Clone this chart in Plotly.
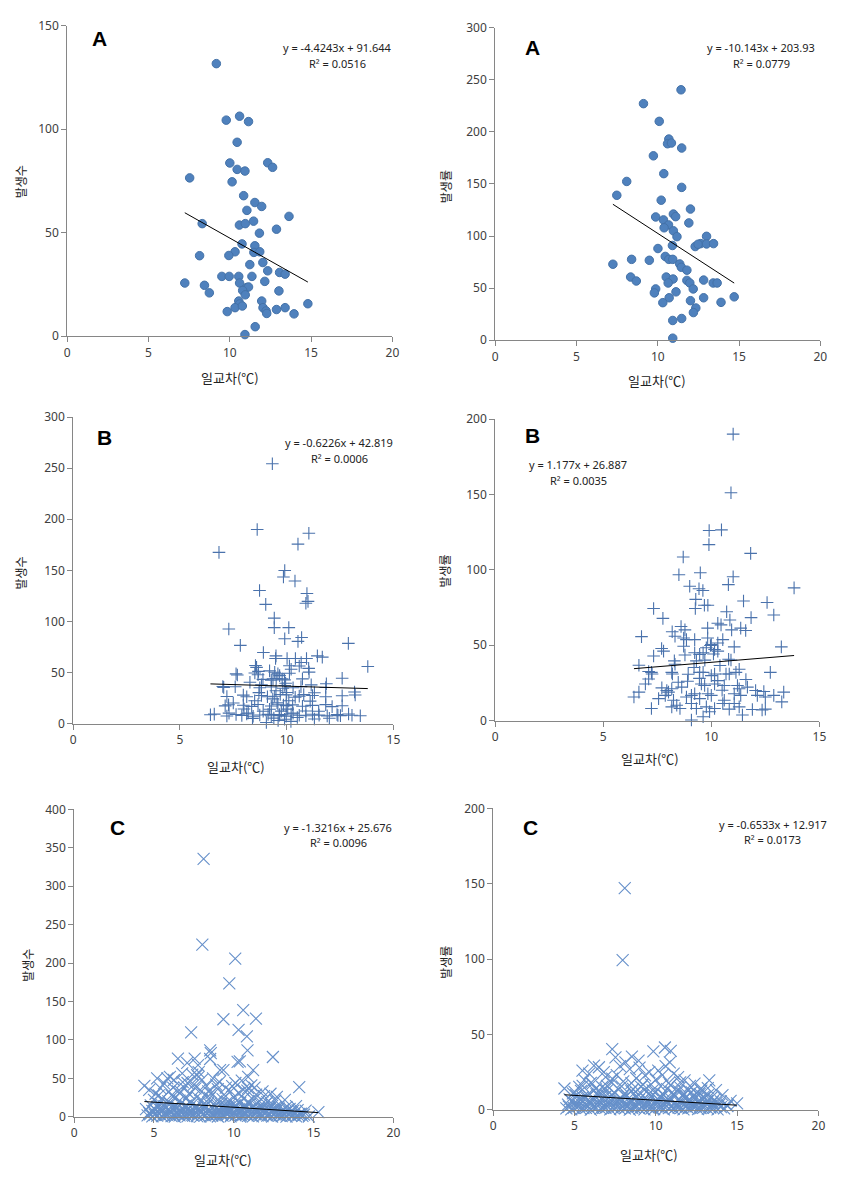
import plotly.graph_objects as go

W, H = 858, 1181

# ---------------- data ----------------
# Panel A (left): 발생수 vs 일교차
a_count = [(9.17,131.7),(9.78,104.4),(10.6,106.3),(11.15,103.7),(10.45,93.7),(10.0,83.7),(12.33,83.8),(12.63,81.6),
 (10.45,80.6),(10.93,79.8),(7.53,76.5),(10.14,74.6),(10.85,67.9),(11.54,64.6),(11.96,62.7),(11.05,60.8),(13.64,57.9),
 (8.3,54.4),(10.59,53.7),(10.95,54.4),(11.46,55.6),(12.87,51.7),(11.82,49.8),(10.75,44.6),(11.54,43.7),(10.32,40.8),
 (9.94,39.0),(8.14,38.9),(11.48,40.5),(11.84,40.8),(12.03,35.6),(11.23,34.6),(12.33,31.6),(13.06,30.8),(13.4,30.0),
 (9.51,28.9),(9.96,28.9),(10.55,28.9),(11.36,28.9),(7.23,25.7),(8.44,24.6),(10.6,25.7),(12.15,26.5),(11.03,23.5),
 (11.15,23.8),(10.79,22.1),(13.02,21.9),(8.74,20.95),(10.95,20.0),(10.55,17.0),(11.96,17.0),(10.6,15.6),(14.8,15.7),
 (10.32,13.8),(10.77,14.6),(12.04,13.8),(12.23,12.2),(12.87,12.9),(13.4,13.8),(9.84,11.9),(12.27,11.0),(13.95,10.8),
 (11.56,4.6),(10.93,0.8)]

# Panel A (right): 발생률 vs 일교차
a_rate = [(11.43,240.4),(9.12,227.1),(10.09,210.1),(10.68,193.1),(10.6,188.6),(10.84,189.3),(11.47,184.5),(9.73,177.0),
 (10.37,159.9),(8.09,152.4),(11.47,146.7),(7.48,139.1),(10.21,134.4),(12.01,125.9),(10.96,121.1),(11.1,118.6),
 (9.87,118.3),(10.35,115.5),(11.91,112.6),(10.66,110.7),(10.39,107.9),(10.96,105.0),(11.18,99.4),(13.0,99.7),
 (12.64,92.7),(12.3,89.9),(12.48,92.1),(13.0,92.4),(13.43,92.7),(10.9,90.9),(10.01,88.0),(7.24,72.9),(8.39,77.6),
 (9.48,76.7),(10.46,80.4),(10.68,77.6),(10.92,77.6),(11.35,73.2),(11.45,70.0),(11.79,67.2),(8.33,60.6),(8.68,56.8),
 (10.52,60.6),(10.94,58.7),(10.64,54.9),(12.82,57.7),(11.79,57.4),(11.97,54.9),(12.18,49.2),(13.41,54.9),(13.65,54.9),
 (9.87,49.2),(9.79,45.4),(11.12,46.4),(10.7,40.7),(10.31,36.0),(12.01,37.9),(12.82,40.7),(13.89,36.3),(14.7,41.6),
 (12.34,30.9),(12.19,26.5),(10.92,18.9),(11.47,20.8),(10.92,1.9)]

# Panel B (left): 발생수
b_count = [(9.33,254.3),(8.62,190.0),(11.04,186.2),(10.53,175.6),(6.83,167.5),(9.91,149.8),(9.85,143.4),(10.39,139.5),
 (10.95,127.3),(11.0,119.6),(10.9,117.7),(8.73,130.2),(9.02,116.7),(9.42,103.2),(9.42,93.9),(10.1,93.9),(7.29,92.6),
 (9.91,83.0),(10.53,80.4),(10.7,84.2),(7.83,76.5),(12.89,78.5),(8.91,69.5),(9.5,66.2),(9.48,63.7),(10.02,63.7),
 (10.41,63.7),(10.93,63.7),(11.44,66.2),(11.67,65.0),(13.8,55.9),(8.54,56.9),(8.68,51.1),(9.59,48.6),(10.13,56.6),
 (11.03,54.0),(10.68,59.8),(7.63,48.6),(7.69,47.6),(8.28,40.5),(12.6,44.4),(8.82,37.9),(10.74,43.7),(9.79,43.7),
 (9.36,43.7),(9.91,37.3),(11.15,37.9),(11.86,38.9),(7.01,36.3),(13.18,30.9),
 (8.59,55.0),(10.21,53.2),(10.59,56.4),(11.05,50.3),(8.51,49.5),(8.66,47.8),(9.2,51.6),(9.44,50.2),(9.67,46.9),
 (10.13,49.3),(8.89,43.2),(9.28,42.5),(9.51,44.1),(9.9,42.8),
 (7.05,35.4),(7.59,36.1),(8.74,35.0),(9.28,35.8),(9.82,34.6),(10.67,36.2),(11.83,35.3),
 (7.2,26.5),(7.97,27.8),(8.13,26.2),(8.82,27.4),(9.44,26.8),(9.98,28.1),(10.59,26.9),(11.21,27.5),(11.83,26.3),
 (12.6,27.2),(13.21,28.0),
 (7.12,17.3),(7.28,18.4),(7.97,17.9),(8.36,16.8),(8.66,18.7),(9.28,17.2),(9.59,18.9),(9.98,17.6),(10.28,18.3),
 (10.74,16.9),(11.21,17.8),(11.83,18.5),(12.13,16.6),(12.6,17.4),
 (6.43,8.6),(6.61,9.2),(7.2,7.4),(7.63,8.8),(7.9,7.9),(8.13,9.5),(8.43,7.2),(8.74,8.4),(9.13,9.0),(9.28,7.6),
 (9.67,8.7),(9.98,7.3),(10.21,9.3),(10.59,8.1),(10.9,7.7),(11.21,9.1),(11.52,8.3),(11.9,7.5),(12.36,8.9),(12.52,7.8),
 (12.9,9.4),(13.06,8.2),(13.45,7.6),
 (9.05,1.0),(9.6,3.0),(9.9,4.2),(10.2,2.1),(9.4,5.3),(10.5,6.0),(11.3,4.4),(8.4,5.1),(9.75,12.2),(10.05,14.1),
 (9.55,20.3),(10.1,22.4),(9.35,24.2),(10.4,25.8),(9.7,28.5),(10.9,12.3),(11.1,22.0),(8.9,12.1),(8.2,10.4),(9.2,14.0),
 (9.85,18.2),(10.3,10.2),(9.65,8.0),(10.0,30.4),(9.5,32.1),(8.5,22.3),(8.0,14.2),(11.5,12.0),(12.0,5.2),(12.4,8.0),
 (7.5,20.1),(10.8,28.3),(11.3,30.2),(9.95,39.4),(10.3,35.1),(9.1,26.2),(8.7,30.3),(7.3,10.2)]

# Panel B (right): 발생률
b_rate = [(11.01,190.0),(10.91,151.1),(9.9,126.1),(10.47,126.5),(9.89,116.7),(11.82,110.9),(8.7,108.5),(8.5,96.7),
 (9.49,98.0),(11.01,95.4),(10.79,90.2),(9.0,89.1),(13.83,88.0),(9.43,87.4),(9.61,86.3),(7.33,74.3),(9.28,80.4),
 (9.26,74.3),(9.68,76.5),(9.84,76.5),(12.58,78.3),(11.49,79.3),(10.71,72.2),(7.76,67.8),(11.84,68.3),(12.89,70.0),
 (10.86,66.7),(10.3,64.6),(10.45,63.5),(8.6,62.4),(8.78,60.2),(8.19,58.9),(8.32,55.9),(9.83,61.3),(10.94,60.2),
 (11.36,61.3),(11.59,59.8),(6.77,55.7),(8.72,54.8),(8.85,53.7),(9.23,53.7),(9.83,54.8),(10.53,53.7),(10.3,51.5),
 (9.96,49.8),(10.0,50.4),(9.77,48.3),(11.06,48.9),(13.24,48.9),(8.72,49.3),(7.7,47.8),(7.79,46.1),(9.23,45.0),
 (9.46,43.9),(9.62,45.0),(8.78,43.5),(7.33,42.8),(10.15,47.2),(10.3,46.1),(10.8,40.7),(10.91,40.2),(6.65,36.7),
 (8.29,39.6),(8.32,37.4),(9.31,39.6),(12.73,32.0),(7.1,32.6),(7.23,32.0),(7.26,30.9),(8.17,32.0),(8.2,30.9),
 (8.93,30.7),(9.46,32.0),(9.62,32.0),(10.0,29.8),(10.15,30.9),(10.68,30.9),(10.83,30.9),(11.14,32.0),(11.29,34.1),
 (6.95,24.3),(7.1,27.6),(7.71,21.7),(7.94,20.0),(8.02,18.9),(8.17,21.1),(8.47,25.4),(8.63,22.2),(9.54,24.3),
 (9.69,23.3),(10.15,24.3),(10.3,26.5),(10.6,23.3),(11.21,23.3),(11.29,21.1),(11.67,22.2),(12.05,20.0),(12.43,19.3),
 (12.89,16.7),(13.35,18.9),(6.42,15.7),(6.65,18.9),(7.56,14.6),(7.87,16.7),(8.25,13.5),(8.85,15.7),(9.08,16.7),
 (9.23,17.8),(9.46,14.6),(9.84,17.8),(10.0,16.7),(10.6,13.5),(10.53,11.3),(11.06,17.8),(11.36,16.7),(12.13,16.7),
 (12.5,15.7),(13.26,12.4),(7.23,8.0),(8.17,9.1),(8.4,10.2),(8.55,8.0),(9.08,11.3),(9.31,8.0),(9.77,9.1),(9.92,5.9),
 (10.15,8.0),(10.83,7.6),(11.29,9.1),(11.44,3.7),(11.9,7.4),(12.35,7.0),(12.5,7.6),(9.08,0.4),(9.62,2.6),(11.06,11.3),
 (9.45,28.0),(10.4,36.5),(9.7,40.1),(10.1,44.2),(8.9,26.1),(11.6,27.3),(9.2,35.2),(10.5,20.1)]

# Panel C (left): 발생수
c_count = [(8.11,335.5),(8.03,223.9),(10.09,205.9),(9.72,173.5),(10.59,138.9),(9.35,126.9),(11.39,127.8),(7.33,109.8),
 (10.3,113.2),(10.82,104.7),(8.52,86.3),(8.56,82.9),(8.52,75.2),(10.86,86.3),(12.45,77.8),(6.5,75.6),(7.55,75.6),
 (7.76,67.1),(10.24,71.4),(10.38,72.2),(7.08,70.1),(7.7,54.3),(7.8,52.1),(6.77,56.4),(9.14,60.7),(9.35,60.7),
 (11.21,60.7),(10.9,52.1),(14.1,38.5),
 (4.4,40.2),(5.2,50.0),(5.63,43.6),(5.84,50.0),(6.25,47.9),(5.4,37.2),(5.94,32.9),(4.7,35.0),(5.1,30.0),(6.1,28.0),
 (6.5,33.0),(6.9,38.0),(7.2,30.0),(7.5,42.0),(7.9,35.0),(8.2,28.0),(8.6,31.0),(9.0,36.0),(9.4,29.0),(9.8,33.0),
 (10.3,31.0),(10.9,37.2),(10.85,34.0),(11.4,29.0),(11.9,27.0),(12.3,30.0),(6.8,45.0),(7.4,55.0),(8.3,40.0),
 (9.1,45.0),(9.9,40.0),(10.5,47.0),(11.1,41.0),(6.0,52.0),(7.8,58.0),(8.7,50.0),
 (5.3,28.0),(6.2,38.0),(6.7,32.0),(7.1,44.0),(7.6,37.0),(8.0,48.0),(8.4,33.0),(8.9,42.0),(9.5,38.0),(10.1,44.0),
 (10.6,35.0),(11.3,38.0),(11.8,33.0),(12.7,26.0),(13.2,22.0),(13.9,14.0),(14.5,8.0),(14.2,4.0),
 (5.0,22.0),(5.5,24.0),(5.9,20.0),(6.3,25.0),(6.6,21.0),(7.0,23.5),(7.3,19.5),(7.7,26.0),(8.0,21.5),(8.5,24.5),
 (8.9,20.2),(9.3,23.0),(9.6,19.3),(10.0,25.5),(10.2,21.0),(10.6,23.8),(10.9,19.8),(11.2,22.5),(11.6,20.5),
 (12.1,19.2),(12.6,21.0),
 (4.8,15.0),(5.3,17.0),(5.6,14.0),(6.0,16.5),(6.3,13.5),(6.7,17.5),(7.0,14.6),(7.4,16.2),(7.7,13.2),(8.1,15.8),
 (8.4,17.8),(8.8,14.2),(9.2,16.8),(9.5,13.8),(9.8,17.2),(10.1,15.1),(10.4,18.0),(10.7,14.4),(11.0,16.4),(11.3,13.6),
 (11.7,15.5),(12.0,17.1),(12.4,14.1),(12.8,13.2),(13.3,12.5),
 (5.2,12.8),(5.75,13.4),(6.4,11.6),(6.95,13.7),(7.55,12.1),(8.25,13.9),(8.95,12.4),(9.55,11.8),(10.1,13.5),
 (10.65,11.3),(11.2,12.9),(11.85,11.7),(12.6,12.2),(13.5,10.4),
 (4.5,10.0),(5.1,9.0),(5.4,11.5),(5.9,8.5),(6.2,10.5),(6.5,12.0),(6.8,9.0),(7.2,11.0),(7.5,8.2),(7.8,10.8),
 (8.1,12.5),(8.4,9.3),(8.7,11.6),(9.1,8.8),(9.4,10.6),(9.7,12.2),(9.9,9.1),(10.2,11.4),(10.5,8.4),(10.7,12.8),
 (11.0,10.1),(11.3,8.6),(11.6,11.2),(11.9,9.4),(12.2,10.5),(12.5,8.8),(12.8,11.0),(13.1,9.2),(13.4,8.1),(13.7,7.5),
 (14.0,8.6),
 (4.9,7.8),(5.45,8.3),(6.05,7.4),(6.6,8.1),(7.25,7.6),(7.85,8.4),(8.45,7.3),(9.05,8.2),(9.65,7.5),(10.25,8.6),
 (10.85,7.2),(11.45,8.0),(12.05,7.7),(12.65,7.1),(13.25,6.8),
 (4.7,5.0),(5.0,6.5),(5.3,4.2),(5.7,5.8),(6.0,6.8),(6.4,4.5),(6.7,5.5),(7.0,6.9),(7.3,4.1),(7.6,5.9),(8.0,6.2),
 (8.3,4.4),(8.6,5.4),(8.9,6.6),(9.2,4.8),(9.5,5.7),(9.7,6.9),(10.0,4.3),(10.3,5.9),(10.5,6.4),(10.8,4.6),(11.1,5.5),
 (11.4,6.3),(11.7,4.2),(12.0,5.1),(12.3,6.6),(12.6,4.7),(12.9,5.3),(13.2,4.2),(13.5,5.6),(13.8,4.4),(14.1,3.8),
 (15.3,6.0),
 (4.75,3.2),(5.05,2.4),(5.35,3.6),(5.65,1.9),(5.95,3.3),(6.25,2.7),(6.55,3.8),(6.85,2.3),(7.15,3.5),(7.45,1.6),
 (7.75,3.1),(8.05,2.9),(8.35,3.7),(8.65,1.7),(8.95,3.4),(9.25,2.6),(9.55,3.9),(9.85,2.2),(10.15,3.3),(10.45,1.8),
 (10.75,3.6),(11.05,2.7),(11.35,3.2),(11.65,1.9),(11.95,3.4),(12.25,2.5),(12.55,3.1),(12.85,1.7),(13.15,2.8),
 (13.45,3.3),(13.75,2.2),(14.05,1.8),(14.4,2.9),
 (4.6,2.0),(4.9,0.5),(5.2,1.5),(5.5,0.8),(5.8,2.5),(6.1,1.0),(6.3,0.3),(6.6,2.0),(6.9,1.2),(7.1,0.5),(7.4,2.8),
 (7.7,1.0),(7.9,0.2),(8.2,1.8),(8.5,0.7),(8.8,2.2),(9.0,0.4),(9.3,1.5),(9.6,2.6),(9.8,0.6),(10.1,1.9),(10.4,0.3),
 (10.6,2.4),(10.9,1.1),(11.2,0.5),(11.5,2.0),(11.8,0.8),(12.1,1.6),(12.4,0.4),(12.7,2.1),(13.0,0.9),(13.3,0.3),
 (13.6,1.4),(13.9,0.6),(14.3,1.2),(14.7,0.4)]

# Panel C (right): 발생률
c_rate = [(8.09,147.1),(7.96,99.3),(10.56,41.4),(7.32,40.3),(9.85,38.8),(10.92,39.2),(10.86,31.6),(7.52,34.9),
 (8.53,35.3),(8.94,32.7),(6.2,29.4),(6.5,28.3),(8.13,31.6),(13.29,19.6),(5.29,15.3),(4.38,14.2),(15.0,4.4),
 (13.7,13.1),(14.1,9.8),(12.38,17.4),(12.79,14.2),(11.37,21.8),(11.77,19.6),(9.34,22.9),(10.15,26.1),(5.49,26.1),
 (5.9,24.0),(6.91,21.8),(7.32,20.7),
 (6.0,18.0),(6.8,25.0),(7.0,16.0),(7.6,23.0),(8.0,19.0),(8.4,27.0),(8.8,21.0),(9.2,17.0),(9.6,25.0),(10.0,20.0),
 (10.4,23.0),(10.8,18.0),(11.1,24.0),(11.5,15.0),(12.0,13.0),(12.5,11.0),(5.0,12.0),(5.6,20.0),(6.3,14.0),
 (7.8,29.0),(9.0,28.0),(10.6,29.0),(8.6,14.0),(9.8,13.0),(11.9,9.0),(12.9,7.0),(13.5,5.0),(14.4,3.0),(14.6,6.0),
 (5.5,16.0),(6.1,17.5),(6.7,15.2),(7.3,18.1),(7.9,15.6),(8.5,17.8),(9.1,15.3),(9.7,16.9),(10.3,15.8),(10.9,16.4),
 (11.5,18.3),(12.1,16.0),(12.8,12.8),(13.2,14.5),
 (4.9,11.0),(5.4,12.6),(5.8,10.2),(6.2,13.1),(6.6,11.4),(7.0,12.9),(7.3,10.1),(7.7,13.6),(8.1,11.2),(8.5,12.4),
 (8.9,10.3),(9.3,13.3),(9.6,11.0),(10.0,12.1),(10.4,10.5),(10.7,13.8),(11.0,11.6),(11.4,12.7),(11.7,10.4),
 (12.2,11.8),(12.7,10.6),(13.2,9.8),
 (5.1,9.6),(5.7,8.2),(6.35,10.4),(6.95,9.4),(7.45,11.5),(8.05,9.8),(8.65,10.9),(9.2,9.6),(9.85,10.2),(10.5,9.9),
 (11.1,10.6),(11.65,9.1),(12.3,9.4),(12.95,8.8),(13.4,7.9),
 (4.7,7.0),(5.2,6.1),(5.5,8.4),(5.9,5.6),(6.2,7.7),(6.5,9.1),(6.9,6.3),(7.2,8.6),(7.6,5.8),(7.9,7.4),(8.2,9.3),
 (8.5,6.0),(8.8,8.1),(9.1,5.4),(9.4,7.2),(9.7,9.0),(10.0,6.4),(10.3,8.3),(10.6,5.7),(10.9,7.6),(11.2,9.2),(11.5,6.2),
 (11.8,8.0),(12.1,5.5),(12.4,7.1),(12.7,6.3),(13.0,8.2),(13.6,6.8),(14.0,5.6),
 (4.85,5.6),(5.4,6.6),(6.0,5.3),(6.55,6.1),(7.15,5.4),(7.75,6.7),(8.35,5.2),(8.95,6.5),(9.55,5.6),(10.15,6.9),
 (10.75,5.1),(11.35,6.4),(11.95,5.8),(12.55,5.2),(13.15,6.0),(13.75,4.8),
 (4.6,3.5),(5.0,4.6),(5.3,2.8),(5.6,4.1),(6.1,3.2),(6.4,4.8),(6.8,2.7),(7.1,3.9),(7.4,4.9),(7.7,3.0),(8.0,4.4),
 (8.3,2.6),(8.6,3.8),(8.9,4.7),(9.2,3.1),(9.5,4.2),(9.8,2.9),(10.1,4.5),(10.4,3.4),(10.7,4.9),(11.0,2.8),(11.3,3.7),
 (11.6,4.6),(11.9,3.1),(12.2,4.0),(12.5,2.9),(12.8,3.6),(13.1,4.2),(13.4,2.7),(13.9,3.3),(14.4,2.6),
 (4.65,2.2),(4.95,1.4),(5.25,2.5),(5.55,1.2),(5.85,2.3),(6.15,1.5),(6.45,2.6),(6.75,1.3),(7.05,2.4),(7.35,1.6),
 (7.65,2.2),(7.95,1.9),(8.25,2.6),(8.55,1.4),(8.85,2.3),(9.15,1.7),(9.45,2.5),(9.75,1.2),(10.05,2.4),(10.35,1.6),
 (10.65,2.7),(10.95,1.9),(11.25,2.2),(11.55,1.3),(11.85,2.5),(12.15,1.7),(12.45,2.3),(12.75,1.2),(13.05,2.4),
 (13.35,1.6),(13.65,2.1),(14.0,1.8),
 (4.5,1.0),(4.8,0.3),(5.1,1.8),(5.4,0.6),(5.7,1.4),(6.0,0.2),(6.3,1.9),(6.6,0.8),(6.9,1.3),(7.2,0.4),(7.5,1.7),
 (7.8,0.7),(8.1,1.1),(8.4,0.2),(8.7,1.6),(9.0,0.9),(9.3,0.3),(9.6,1.5),(9.9,0.6),(10.2,1.8),(10.5,0.4),(10.8,1.2),
 (11.1,0.7),(11.4,1.6),(11.7,0.3),(12.0,1.0),(12.3,1.9),(12.6,0.5),(12.9,1.3),(13.2,0.8),(13.5,1.5),(13.8,0.4),
 (14.2,1.1)]

# trend equations (slope, intercept) and R² labels
trend_coef = [(-4.4243, 91.644), (-10.143, 203.93), (-0.6226, 42.819), (1.177, 26.887), (-1.3216, 25.676), (-0.6533, 12.917)]
eq_text = ["y = -4.4243x + 91.644", "y = -10.143x + 203.93", "y = -0.6226x + 42.819",
           "y = 1.177x + 26.887", "y = -1.3216x + 25.676", "y = -0.6533x + 12.917"]
r2_text = ["0.0516", "0.0779", "0.0006", "0.0035", "0.0096", "0.0173"]
letters = ["A", "A", "B", "B", "C", "C"]
y_titles = ["발생수", "발생률", "발생수", "발생률", "발생수", "발생률"]
x_title = "일교차(℃)"
x_ranges = [(0, 20), (0, 20), (0, 15), (0, 15), (0, 20), (0, 20)]
y_ranges = [(0, 150), (0, 300), (0, 300), (0, 200), (0, 400), (0, 200)]

# ---------------- layout geometry (pixels) ----------------
boxes = [(65, 394, 17, 332), (498, 827, 19, 336), (71, 395, 414, 725),
         (498, 826, 416, 722), (72, 395, 812, 1124), (496, 825, 811, 1117)]
letter_pos = [(98, 30), (536, 39), (103, 435), (536, 433), (116, 830), (534, 830)]
eq_pos = [(338, 39), (767, 39), (340, 440), (582, 462), (339, 830), (779, 827)]
xt_pos = [(230, 374), (662, 377), (236, 769), (655, 760), (223, 1167), (654, 1162)]
yt_pos = [(18, 175), (448, 180), (18, 572), (447, 570), (24, 970), (447, 967)]

datasets = [a_count, a_rate, b_count, b_rate, c_count, c_rate]
styles = [
    dict(symbol="circle", size=8.5, color="#4F81BD", line=dict(width=1, color="#4472A8")),
    dict(symbol="circle", size=8.5, color="#4F81BD", line=dict(width=1, color="#4472A8")),
    dict(symbol="cross-thin", size=9, color="#4A72AC", line=dict(width=1.1, color="#4A72AC")),
    dict(symbol="cross-thin", size=9, color="#4A72AC", line=dict(width=1.1, color="#4A72AC")),
    dict(symbol="x-thin", size=12, color="#6690CA", line=dict(width=1.1, color="#6690CA")),
    dict(symbol="x-thin", size=12, color="#6690CA", line=dict(width=1.1, color="#6690CA")),
]

def px_x(p):
    return p / W

def px_y(p):
    return 1 - p / H

fig = go.Figure()
annotations = []
layout_axes = {}
AX = "#868686"
TICKFONT = dict(family="Noto Sans, DejaVu Sans, sans-serif", size=12, color="#404040")
TXT = "#222222"

for i in range(6):
    n = i + 1
    xa = "x" if n == 1 else f"x{n}"
    ya = "y" if n == 1 else f"y{n}"
    pts = datasets[i]
    xs = [p[0] for p in pts]
    ys = [p[1] for p in pts]
    fig.add_trace(go.Scatter(x=xs, y=ys, mode="markers", marker=styles[i], xaxis=xa, yaxis=ya,
                             cliponaxis=False, showlegend=False, hoverinfo="skip"))
    m, b = trend_coef[i]
    x0, x1 = min(xs), max(xs)
    fig.add_trace(go.Scatter(x=[x0, x1], y=[m * x0 + b, m * x1 + b], mode="lines",
                             line=dict(color="black", width=1), xaxis=xa, yaxis=ya,
                             cliponaxis=False, showlegend=False, hoverinfo="skip"))
    L, R, T, B = boxes[i]
    xkey = "xaxis" if n == 1 else f"xaxis{n}"
    ykey = "yaxis" if n == 1 else f"yaxis{n}"
    layout_axes[xkey] = dict(domain=[px_x(L), px_x(R)], anchor=ya, range=list(x_ranges[i]), dtick=5, tick0=0,
                             showline=True, linecolor=AX, linewidth=1, ticks="outside", ticklen=5,
                             tickcolor=AX, showgrid=False, zeroline=False, tickfont=TICKFONT, fixedrange=True)
    layout_axes[ykey] = dict(domain=[px_y(B), px_y(T)], anchor=xa, range=list(y_ranges[i]), dtick=50, tick0=0,
                             showline=True, linecolor=AX, linewidth=1, ticks="outside", ticklen=5,
                             tickcolor=AX, showgrid=False, zeroline=False, tickfont=TICKFONT, fixedrange=True)
    lx, ly = letter_pos[i]
    annotations.append(dict(x=px_x(lx), y=px_y(ly), xref="paper", yref="paper", text=f"<b>{letters[i]}</b>",
                            showarrow=False, xanchor="center", yanchor="middle",
                            font=dict(family="Liberation Sans, Arial, sans-serif", size=21, color="black")))
    ex, ey = eq_pos[i]
    annotations.append(dict(x=px_x(ex), y=px_y(ey), xref="paper", yref="paper", text=eq_text[i],
                            showarrow=False, xanchor="center", yanchor="middle",
                            font=dict(family="Noto Sans, DejaVu Sans, sans-serif", size=11, color=TXT)))
    annotations.append(dict(x=px_x(ex), y=px_y(ey + 16), xref="paper", yref="paper",
                            text=f"R² = {r2_text[i]}",
                            showarrow=False, xanchor="center", yanchor="middle",
                            font=dict(family="Noto Sans, DejaVu Sans, sans-serif", size=11, color=TXT)))
    tx, ty = xt_pos[i]
    annotations.append(dict(x=px_x(tx), y=px_y(ty), xref="paper", yref="paper", text=x_title,
                            showarrow=False, xanchor="center", yanchor="middle",
                            font=dict(family="Noto Sans CJK KR, sans-serif", size=13, color=TXT)))
    yx, yy = yt_pos[i]
    annotations.append(dict(x=px_x(yx), y=px_y(yy), xref="paper", yref="paper", text=y_titles[i],
                            showarrow=False, xanchor="center", yanchor="middle", textangle=-90,
                            font=dict(family="Noto Sans CJK KR, sans-serif", size=12, color=TXT)))

fig.update_layout(width=W, height=H, margin=dict(l=0, r=0, t=0, b=0), paper_bgcolor="white",
                  plot_bgcolor="white", annotations=annotations, **layout_axes)

fig.write_html("out.html")
